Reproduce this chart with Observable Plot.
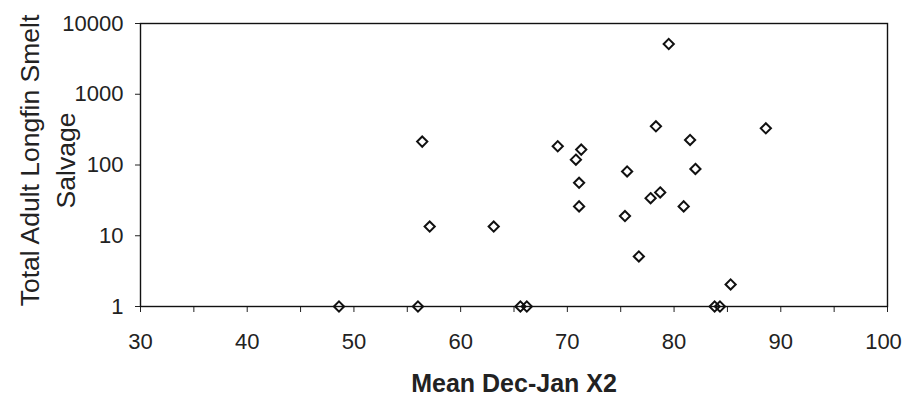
<!DOCTYPE html>
<html>
<head>
<meta charset="utf-8">
<script src="https://cdn.jsdelivr.net/npm/d3@7"></script>
<script src="https://cdn.jsdelivr.net/npm/@observablehq/plot@0.6"></script>
<style>
  html, body { margin: 0; padding: 0; background: #fff; }
  svg { display: block; font-family: "Liberation Sans", Arial, sans-serif; }
</style>
</head>
<body>
<div id="chart"></div>
<script>
// Data (Mean Dec-Jan X2 vs total adult longfin smelt salvage)
const xValues = [48.6, 56.0, 65.6, 66.2, 83.8, 84.3, 56.4, 57.1, 63.1, 69.1, 71.3, 70.8, 71.1, 71.1, 75.4, 75.6, 76.7, 77.8, 78.7, 78.3, 79.5, 80.9, 81.5, 82.0, 85.3, 88.6];
const yValues = [1, 1, 1, 1, 1, 1, 214, 13.5, 13.5, 184, 165, 119, 56, 26, 19, 81, 5.1, 34, 41, 352, 5130, 26, 226, 88, 2.05, 330];
const xTicks = [30, 40, 50, 60, 70, 80, 90, 100];
const xMinorTicks = [35, 45, 55, 65, 75, 85, 95];
const yTicks = [1, 10, 100, 1000, 10000];
const xLabel = "Mean Dec-Jan X2";
const yLabel = "Total Adult Longfin Smelt\nSalvage";

const points = xValues.map((x, i) => ({x, y: yValues[i]}));
const fmt = d => String(d);

const chart = Plot.plot({
  width: 904,
  height: 401,
  marginLeft: 140,
  marginRight: 17,
  marginTop: 23,
  marginBottom: 95,
  style: {fontFamily: "'Liberation Sans', Arial, sans-serif", color: "#222", background: "#fff"},
  x: {domain: [30, 100]},
  y: {type: "log", domain: [1, 10000]},
  marks: [
    // tick marks (major + minor)
    Plot.axisX({ticks: xTicks.concat(xMinorTicks), tickSize: 6, tickFormat: () => "", label: null, stroke: "#222"}),
    // tick labels (last one nudged inward so it stays inside the picture)
    Plot.axisX({ticks: xTicks.slice(0, -1), tickSize: 0, tickPadding: 27, fontSize: 22, label: null, tickFormat: fmt}),
    Plot.axisX({ticks: xTicks.slice(-1), tickSize: 0, tickPadding: 27, fontSize: 22, label: null, tickFormat: fmt, dx: -4}),
    Plot.axisY({ticks: yTicks, tickSize: 5, tickPadding: 12, fontSize: 22, label: null, tickFormat: fmt, stroke: "#222"}),
    Plot.frame({stroke: "#111", strokeWidth: 1.4}),
    Plot.dot(points, {x: "x", y: "y", symbol: "diamond2", r: 4.6, stroke: "#111", strokeWidth: 2, fill: "none"}),
    Plot.text([xLabel], {text: d => d, frameAnchor: "bottom", dy: 77, fontSize: 25, fill: "#222", fontWeight: "bold", textAnchor: "middle", lineAnchor: "middle"}),
    Plot.text([yLabel], {text: d => d, frameAnchor: "left", dx: -95, dy: -4.5, rotate: -90, fontSize: 26.5, lineHeight: 1.36, fill: "#222", textAnchor: "middle", lineAnchor: "middle"})
  ]
});
document.getElementById("chart").appendChild(chart);
</script>
</body>
</html>
